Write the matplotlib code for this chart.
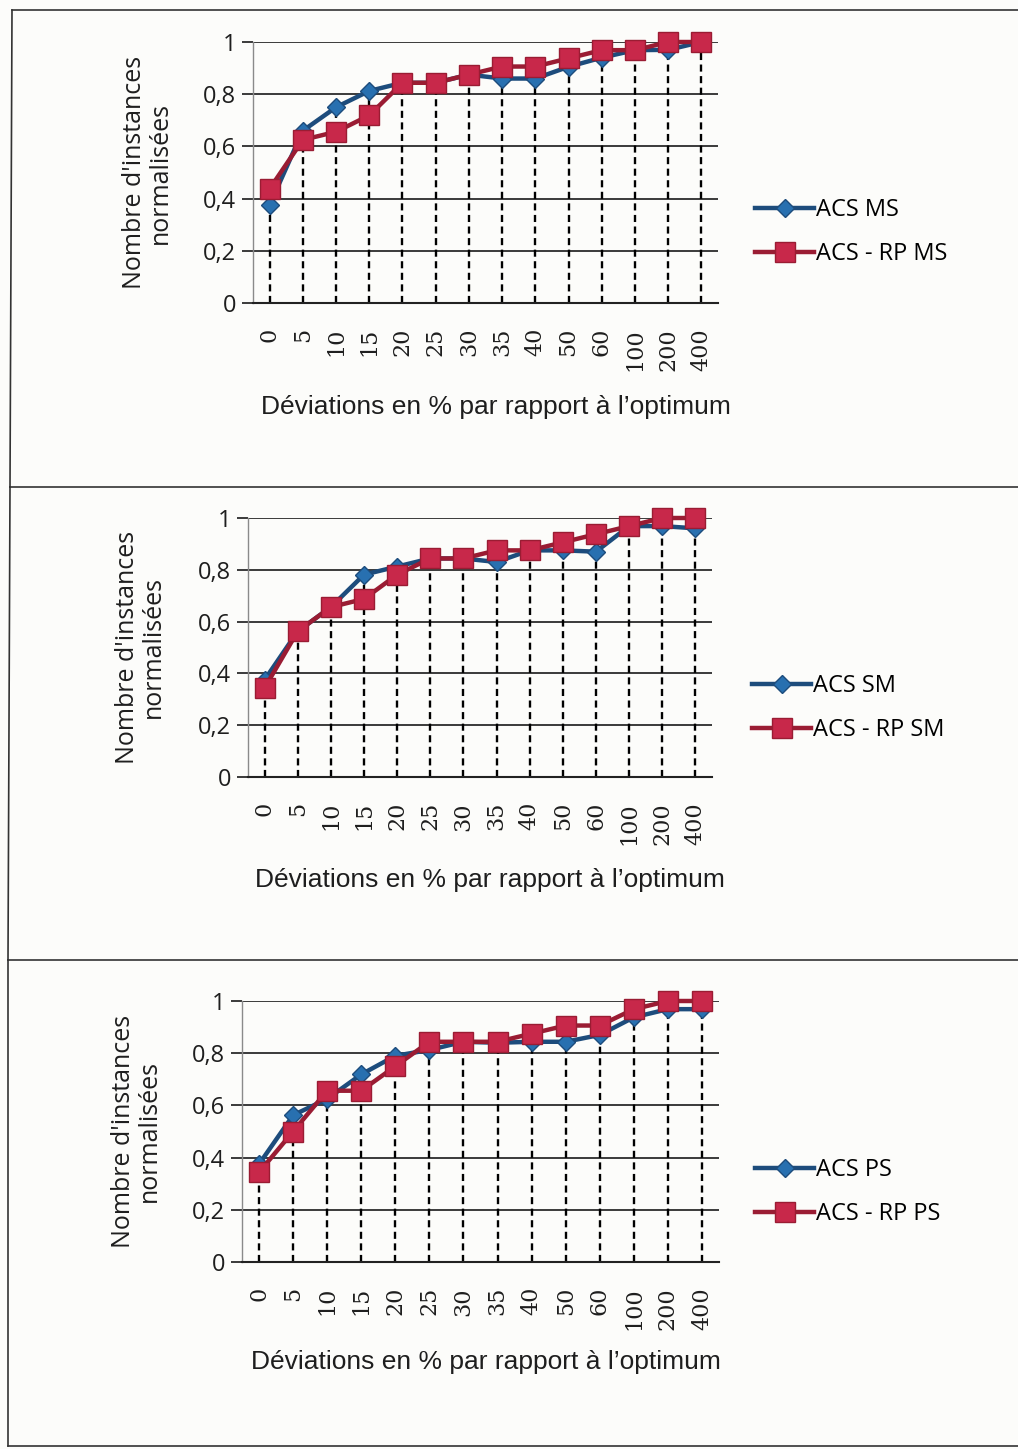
import numpy as np
import matplotlib
matplotlib.use("Agg")
import matplotlib.pyplot as plt
from matplotlib.lines import Line2D

# deviation classes (% above optimum)
deviations = ['0', '5', '10', '15', '20', '25', '30', '35', '40', '50', '60', '100', '200', '400']

# normalised number of instances, one pair of series per neighbourhood
acs_ms = [0.375, 0.66, 0.75, 0.8125, 0.84375, 0.84375, 0.875, 0.86, 0.86, 0.905, 0.94, 0.96875, 0.97, 1.0]
acs_rp_ms = [0.4375, 0.625, 0.656, 0.71875, 0.84375, 0.84375, 0.875, 0.906, 0.906, 0.9375, 0.96875, 0.96875, 1.0, 1.0]

acs_sm = [0.375, 0.5625, 0.656, 0.78125, 0.8125, 0.84375, 0.84375, 0.83, 0.875, 0.875, 0.87, 0.96875, 0.96875, 0.96]
acs_rp_sm = [0.34375, 0.5625, 0.656, 0.6875, 0.78125, 0.84375, 0.84375, 0.875, 0.875, 0.906, 0.9375, 0.96875, 1.0, 1.0]

acs_ps = [0.375, 0.5625, 0.625, 0.71875, 0.79, 0.8125, 0.84375, 0.84, 0.84375, 0.84375, 0.87, 0.9375, 0.96875, 0.96875]
acs_rp_ps = [0.34375, 0.5, 0.65625, 0.65625, 0.75, 0.84375, 0.84375, 0.84375, 0.875, 0.906, 0.906, 0.96875, 1.0, 1.0]

W, H = 1018, 1449
fig = plt.figure(figsize=(W / 100, H / 100), dpi=100)
fig.patch.set_facecolor('#fcfcfa')

BLUE_LINE = '#1d4c7c'
BLUE_FACE = '#2870b0'
RED_LINE = '#9a1c33'
RED_FACE = '#c8284a'
TXT = '#1e1e1e'


def box(x0, y0, x1, y1):
    return [x0 / W, 1 - y1 / H, (x1 - x0) / W, (y1 - y0) / H]


def panel(rect, blue, red, names, ylab_x, xlab_xy, leg_xy):
    ax = fig.add_axes(box(*rect))
    ax.set_facecolor('none')
    x = np.arange(len(deviations))
    # drop lines from each point down to the axis
    top = np.maximum(blue, red)
    ax.vlines(x, 0, top, colors='black', linestyles=(0, (3.0, 1.9)), lw=1.7, zorder=1)
    ax.plot(x, blue, color=BLUE_LINE, lw=3.2, marker='D', ms=9,
            mfc=BLUE_FACE, mec=BLUE_LINE, mew=1, zorder=3, label=names[0], clip_on=False)
    ax.plot(x, red, color=RED_LINE, lw=3.2, marker='s', ms=14,
            mfc=RED_FACE, mec=RED_LINE, mew=1, zorder=4, label=names[1], clip_on=False)
    ax.set_xlim(-0.5, len(deviations) - 0.5)
    ax.set_ylim(0, 1)
    ax.set_yticks([0, 0.2, 0.4, 0.6, 0.8, 1])
    ax.set_yticklabels(['0', '0,2', '0,4', '0,6', '0,8', '1'], family='Open Sans', fontsize=17, color=TXT)
    ax.yaxis.grid(True, color='#3a3a3a', lw=1.4)
    ax.set_axisbelow(True)
    ax.set_xticks(x)
    ax.set_xticklabels(deviations, rotation=90, family='DejaVu Serif', fontsize=16, color=TXT)
    ax.tick_params(axis='x', length=0, pad=18)
    ax.tick_params(axis='y', length=8, width=1.4, color='#3a3a3a', pad=4)
    for s in ['top', 'right']:
        ax.spines[s].set_visible(False)
    ax.spines['left'].set_color('#8a8a8a')
    ax.spines['left'].set_linewidth(1.0)
    ax.spines['bottom'].set_color('#222222')
    ax.spines['bottom'].set_linewidth(1.5)

    yc = (rect[1] + rect[3]) / 2
    fig.text(ylab_x / W, 1 - yc / H, "Nombre d'instances\nnormalisées", rotation=90,
             ha='center', va='center', family='Open Sans', fontsize=18, color=TXT, linespacing=1.05)
    fig.text(xlab_xy[0] / W, 1 - xlab_xy[1] / H, "Déviations en % par rapport à l’optimum",
             ha='center', va='center', family='Liberation Sans', fontsize=19, color=TXT)

    handles, labels = ax.get_legend_handles_labels()
    fig.legend(handles, labels, loc='upper left', bbox_to_anchor=(leg_xy[0] / W, 1 - leg_xy[1] / H),
               frameon=False, borderpad=0, borderaxespad=0, handlelength=2.5, handletextpad=0.1,
               labelspacing=0.85, prop={'family': 'Open Sans', 'size': 17})
    return ax


panel((253, 42, 718, 303), acs_ms, acs_rp_ms, ['ACS MS', 'ACS - RP MS'], 147, (496, 407), (755, 198))
panel((248, 518, 712, 777), acs_sm, acs_rp_sm, ['ACS SM', 'ACS - RP SM'], 140, (490, 880), (752, 674))
panel((242, 1001, 719, 1262), acs_ps, acs_rp_ps, ['ACS PS', 'ACS - RP PS'], 136, (486, 1362), (755, 1158))

# outer frame and separators between the three panels
frame = dict(color='#333333', lw=1.2, transform=fig.transFigure)
fig.add_artist(Line2D([12 / W, 1], [1 - 10 / H, 1 - 10 / H], **frame))
fig.add_artist(Line2D([10 / W, 1], [1 - 487 / H, 1 - 487 / H], **frame))
fig.add_artist(Line2D([8 / W, 1], [1 - 960 / H, 1 - 960 / H], **frame))
fig.add_artist(Line2D([8 / W, 1], [1 - 1446 / H, 1 - 1446 / H], **frame))
fig.add_artist(Line2D([12 / W, 10 / W], [1 - 10 / H, 1 - 487 / H], **frame))
fig.add_artist(Line2D([10 / W, 8 / W], [1 - 487 / H, 1 - 960 / H], **frame))
fig.add_artist(Line2D([8 / W, 8 / W], [1 - 960 / H, 1 - 1446 / H], **frame))

fig.savefig('out.png', dpi=100, facecolor=fig.get_facecolor())
